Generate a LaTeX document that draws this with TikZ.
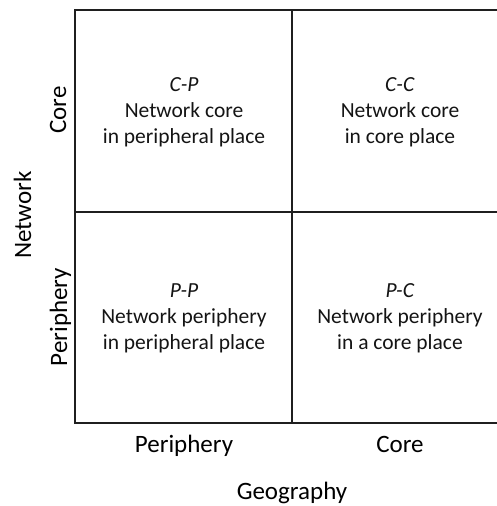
\documentclass[tikz,border=0pt]{standalone}
\usepackage{fontspec}
\setmainfont{Carlito}
\begin{document}
\begin{tikzpicture}[x=1pt,y=-1pt,
  gridline/.style={line width=2pt, draw=black!88},
  celltext/.style={align=center, font=\fontsize{21.5}{26}\selectfont, text=black!92, inner sep=0pt},
  axislabel/.style={font=\fontsize{25}{30}\selectfont, text=black, inner sep=0pt, anchor=base}]
\useasboundingbox (0,0) rectangle (497,506);
% grid
\draw[gridline] (497,10) -- (75,10) -- (75,423) -- (497,423);
\draw[gridline] (292,10) -- (292,423);
\draw[gridline] (75,212) -- (497,212);
% cells
\node[celltext] (cp) at (184,112) {\textit{C-P}\\Network core\\in peripheral place};
\node[celltext] (cc) at (400,112) {\textit{C-C}\\Network core\\in core place};
\node[celltext] (pp) at (184,318) {\textit{P-P}\\Network periphery\\in peripheral place};
\node[celltext] (pc) at (400,318) {\textit{P-C}\\Network periphery\\in a core place};
% axis labels
\node[axislabel] (gper) at (184,452) {Periphery};
\node[axislabel] (gcore) at (400,452) {Core};
\node[axislabel] (geo) at (292,499) {Geography};
\node[axislabel, rotate=90] (ncore) at (66,110) {Core};
\node[axislabel, rotate=90] (nper) at (67,317) {Periphery};
\node[axislabel, rotate=90] (net) at (31,215) {Network};
\end{tikzpicture}
\end{document}
